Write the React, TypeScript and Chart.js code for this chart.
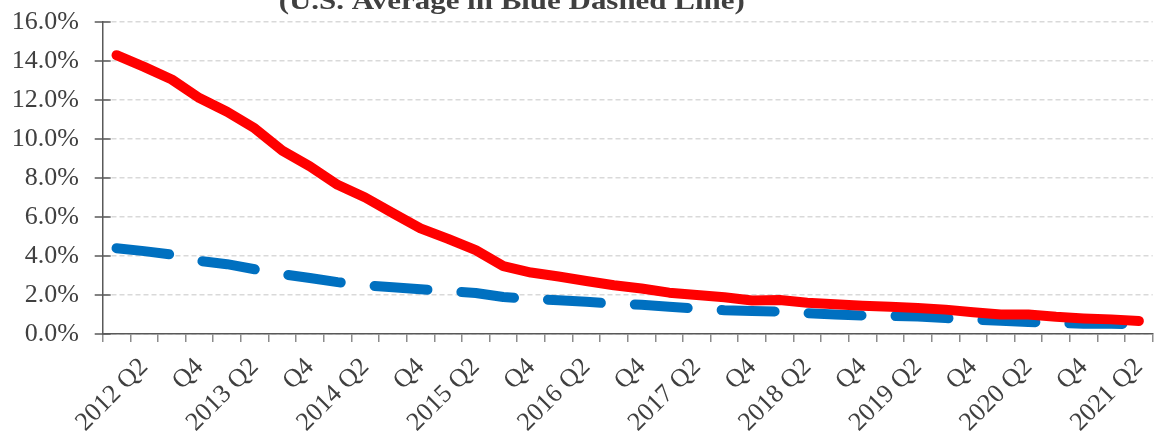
import { useEffect, useRef } from 'react';
import { Chart, registerables } from 'chart.js';

Chart.register(...registerables);

const quarters = [
  '2012 Q1', '2012 Q2', '2012 Q3', '2012 Q4',
  '2013 Q1', '2013 Q2', '2013 Q3', '2013 Q4',
  '2014 Q1', '2014 Q2', '2014 Q3', '2014 Q4',
  '2015 Q1', '2015 Q2', '2015 Q3', '2015 Q4',
  '2016 Q1', '2016 Q2', '2016 Q3', '2016 Q4',
  '2017 Q1', '2017 Q2', '2017 Q3', '2017 Q4',
  '2018 Q1', '2018 Q2', '2018 Q3', '2018 Q4',
  '2019 Q1', '2019 Q2', '2019 Q3', '2019 Q4',
  '2020 Q1', '2020 Q2', '2020 Q3', '2020 Q4',
  '2021 Q1', '2021 Q2',
];

const tickLabels = [
  '', '2012 Q2', '', 'Q4',
  '', '2013 Q2', '', 'Q4',
  '', '2014 Q2', '', 'Q4',
  '', '2015 Q2', '', 'Q4',
  '', '2016 Q2', '', 'Q4',
  '', '2017 Q2', '', 'Q4',
  '', '2018 Q2', '', 'Q4',
  '', '2019 Q2', '', 'Q4',
  '', '2020 Q2', '', 'Q4',
  '', '2021 Q2',
];

const stateRate = [
  14.3, 13.7, 13.05, 12.1, 11.4, 10.55, 9.4, 8.6, 7.65, 7.0,
  6.2, 5.42, 4.88, 4.3, 3.48, 3.15, 2.95, 2.72, 2.5, 2.33,
  2.12, 2.0, 1.88, 1.72, 1.74, 1.6, 1.52, 1.45, 1.4, 1.33,
  1.25, 1.12, 1.0, 1.0, 0.88, 0.8, 0.75, 0.67,
];

const usAverage = [
  4.4, 4.25, 4.07, 3.75, 3.58, 3.32, 3.07, 2.87, 2.66, 2.5,
  2.4, 2.3, 2.2, 2.1, 1.9, 1.8, 1.73, 1.65, 1.55, 1.5,
  1.4, 1.3, 1.22, 1.18, 1.15, 1.07, 1.0, 0.95, 0.93, 0.9,
  0.82, 0.74, 0.68, 0.62, 0.57, 0.52, 0.52, 0.5,
];

const yMin = 0;
const yMax = 16;
const yStep = 2;

const titleText = '(U.S. Average in Blue Dashed Line)';

const FONT = '"Liberation Serif", "Times New Roman", serif';
const TEXT_COLOR = '#404040';

const titlePlugin = {
  id: 'titleText',
  afterDraw(chart: any) {
    const ctx = chart.ctx;
    ctx.save();
    ctx.font = `bold 26px ${FONT}`;
    ctx.fillStyle = TEXT_COLOR;
    ctx.textAlign = 'center';
    ctx.textBaseline = 'alphabetic';
    ctx.translate(511.7, 8.5);
    ctx.scale(1.19, 1);
    ctx.fillText(titleText, 0, 0);
    ctx.restore();
  },
};

const yTickMarks = {
  id: 'yTickMarks',
  afterDraw(chart: any) {
    const ctx = chart.ctx;
    const y = chart.scales.y;
    const left = chart.chartArea.left;
    ctx.save();
    ctx.strokeStyle = '#595959';
    ctx.lineWidth = 1.5;
    y.ticks.forEach((t: any) => {
      const py = y.getPixelForValue(t.value);
      ctx.beginPath();
      ctx.moveTo(left - 8, py);
      ctx.lineTo(left + 8, py);
      ctx.stroke();
    });
    ctx.restore();
  },
};

export default function App() {
  const ref = useRef<HTMLCanvasElement | null>(null);

  useEffect(() => {
    if (!ref.current) return;
    const chart = new Chart(ref.current, {
      type: 'line',
      data: {
        labels: quarters,
        datasets: [
          {
            label: 'State',
            data: stateRate,
            borderColor: '#ff0000',
            backgroundColor: '#ff0000',
            borderWidth: 10,
            borderCapStyle: 'round',
            borderJoinStyle: 'round',
            pointRadius: 0,
            tension: 0,
            fill: false,
          },
          {
            label: 'U.S. Average',
            data: usAverage,
            borderColor: '#0070c0',
            backgroundColor: '#0070c0',
            borderWidth: 10,
            borderDash: [53, 34],
            borderCapStyle: 'round',
            borderJoinStyle: 'round',
            pointRadius: 0,
            tension: 0,
            fill: false,
          },
        ],
      },
      options: {
        responsive: false,
        animation: false,
        events: [],
        layout: { padding: { top: 22, right: 6.3, left: 0, bottom: 0 } },
        plugins: {
          legend: { display: false },
          tooltip: { enabled: false },
          title: { display: false },
        },
        scales: {
          x: {
            type: 'category',
            offset: true,
            grid: {
              offset: true,
              drawOnChartArea: false,
              drawTicks: true,
              tickLength: 8,
              color: '#8c8c8c',
              lineWidth: 1.5,
            },
            border: { display: true, color: '#595959', width: 1.5 },
            ticks: {
              autoSkip: false,
              maxRotation: 45,
              minRotation: 45,
              padding: 10,
              labelOffset: 0,
              color: TEXT_COLOR,
              font: { family: FONT, size: 26 },
              callback: (_v: any, i: number) => tickLabels[i],
            },
            afterFit: (s: any) => {
              s.height = 100;
              s.paddingLeft = 0;
              s.paddingRight = 0;
            },
          },
          y: {
            min: yMin,
            max: yMax,
            ticks: {
              stepSize: yStep,
              padding: 23.7,
              color: TEXT_COLOR,
              font: { family: FONT, size: 26 },
              callback: (v: any) => Number(v).toFixed(1) + '%',
            },
            grid: { color: '#d9d9d9', lineWidth: 1.5, drawTicks: false },
            border: { display: true, color: '#595959', width: 1.5, dash: [5, 3] },
            afterFit: (s: any) => {
              s.width = 102.7;
              s.paddingTop = 0;
              s.paddingBottom = 0;
            },
          },
        },
      },
      plugins: [titlePlugin, yTickMarks],
    });
    return () => chart.destroy();
  }, []);

  return (
    <canvas
      ref={ref}
      width={1159}
      height={434}
      style={{ position: 'absolute', left: 0, top: 0, display: 'block' }}
    />
  );
}
